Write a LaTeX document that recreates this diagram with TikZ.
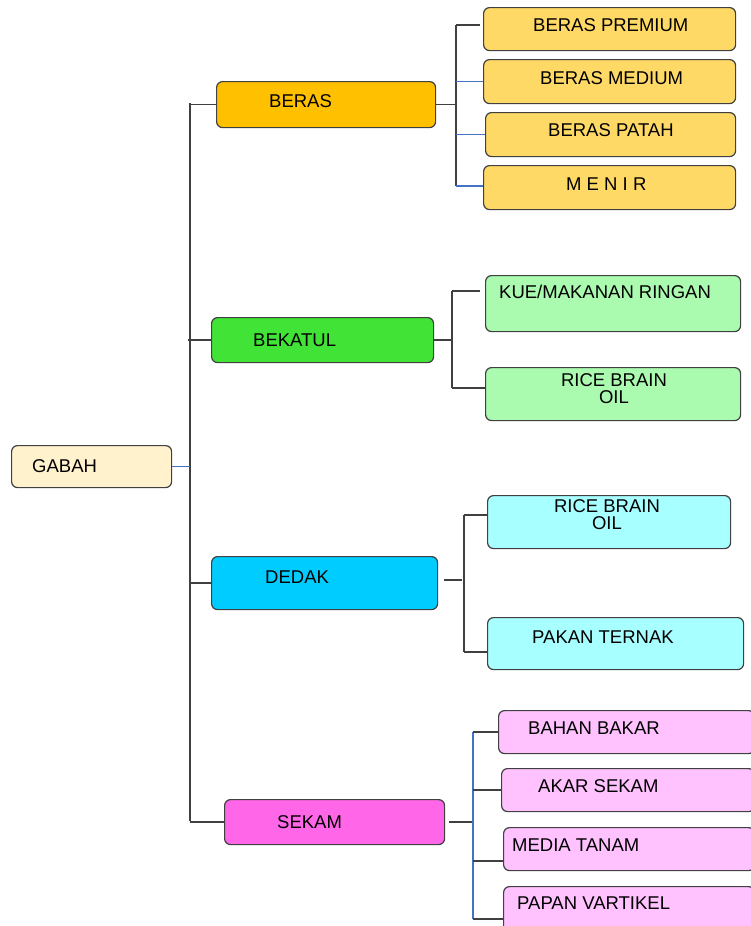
\documentclass[tikz,border=0pt]{standalone}
\usepackage{fontspec}
\setmainfont{Liberation Sans}
\usepackage{tikz}
\usetikzlibrary{calc}

\definecolor{gabahfill}{HTML}{FFF2CC}
\definecolor{berasfill}{HTML}{FFC000}
\definecolor{beraskid}{HTML}{FFD966}
\definecolor{bekatulfill}{HTML}{41E336}
\definecolor{bekatulkid}{HTML}{AAFAB0}
\definecolor{dedakfill}{HTML}{00CCFF}
\definecolor{dedakkid}{HTML}{A8FFFF}
\definecolor{sekamfill}{HTML}{FF66E8}
\definecolor{sekamkid}{HTML}{FFC2FF}
\definecolor{linkblue}{HTML}{4472C4}

\tikzset{
  box/.style={draw=black!75, line width=1.2pt, rounded corners=6pt, anchor=north west, inner sep=0pt},
  lbl/.style={font=\fontsize{18.5}{17}\selectfont, inner sep=0pt, anchor=west, text=black},
  conn/.style={draw=black!75, line width=1.3pt},
  bconn/.style={draw=linkblue, line width=1.4pt}
}

\begin{document}
\begin{tikzpicture}[x=1pt,y=-1pt]
  \useasboundingbox (0,0) rectangle (750,926);

  \node [box, fill=gabahfill, minimum width=160pt, minimum height=42pt] (gabah) at (11,445) {};
  \node [box, fill=berasfill, minimum width=219pt, minimum height=46pt] (beras) at (216,81) {};
  \node [box, fill=bekatulfill, minimum width=222pt, minimum height=45pt] (bekatul) at (211,317) {};
  \node [box, fill=dedakfill, minimum width=226pt, minimum height=53pt] (dedak) at (211,556) {};
  \node [box, fill=sekamfill, minimum width=220pt, minimum height=45pt] (sekam) at (224,799) {};

  \node [box, fill=beraskid, minimum width=252pt, minimum height=43pt] (premium) at (483,7) {};
  \node [box, fill=beraskid, minimum width=252pt, minimum height=44pt] (medium) at (483,59) {};
  \node [box, fill=beraskid, minimum width=250pt, minimum height=44pt] (patah) at (485,112) {};
  \node [box, fill=beraskid, minimum width=252pt, minimum height=44pt] (menir) at (483,165) {};

  \node [box, fill=bekatulkid, minimum width=255pt, minimum height=56pt] (kue) at (485,275) {};
  \node [box, fill=bekatulkid, minimum width=255pt, minimum height=53pt] (oilbk) at (485,367) {};

  \node [box, fill=dedakkid, minimum width=243pt, minimum height=53pt] (oildd) at (487,495) {};
  \node [box, fill=dedakkid, minimum width=256pt, minimum height=52pt] (pakan) at (487,617) {};

  \node [box, fill=sekamkid, minimum width=256pt, minimum height=43pt] (bahan) at (498,710) {};
  \node [box, fill=sekamkid, minimum width=253pt, minimum height=43pt] (akar) at (501,768) {};
  \node [box, fill=sekamkid, minimum width=251pt, minimum height=43pt] (media) at (503,827) {};
  \node [box, fill=sekamkid, minimum width=251pt, minimum height=50pt] (papan) at (503,886) {};

  \node [lbl] (tgabah) at (32,466) {GABAH};
  \node [lbl] (tberas) at (269,101) {BERAS};
  \node [lbl] (tbekatul) at (253,340) {BEKATUL};
  \node [lbl] (tdedak) at (265,577) {DEDAK};
  \node [lbl] (tsekam) at (277,822) {SEKAM};
  \node [lbl] (tpremium) at (533,25) {BERAS PREMIUM};
  \node [lbl] (tmedium) at (540,78) {BERAS MEDIUM};
  \node [lbl] (tpatah) at (548,130) {BERAS PATAH};
  \node [lbl] (tmenir) at (566,184) {M E N I R};
  \node [lbl] (tkue) at (499,292) {KUE/MAKANAN RINGAN};
  \node [lbl, anchor=center, align=center] (toilbk) at (614,388.5) {RICE BRAIN\\ OIL};
  \node [lbl, anchor=center, align=center] (toildd) at (607,514.5) {RICE BRAIN\\ OIL};
  \node [lbl] (tpakan) at (532,637) {PAKAN TERNAK};
  \node [lbl] (tbahan) at (528,728) {BAHAN BAKAR};
  \node [lbl] (takar) at (538,786) {AKAR SEKAM};
  \node [lbl] (tmedia) at (512,845) {MEDIA TANAM};
  \node [lbl] (tpapan) at (517,903) {PAPAN VARTIKEL};

  \coordinate (trunktop) at (190,103);
  \coordinate (trunkbot) at (190,821);
  \draw [conn] (trunktop) -- (trunkbot);
  \draw [bconn] (gabah.east) -- (gabah.east -| trunktop);
  \draw [conn] (beras.west -| trunktop) -- (beras.west);
  \draw [conn] ($(bekatul.west -| trunktop)+(-2,0)$) -- (bekatul.west);
  \draw [conn] (dedak.west -| trunktop) -- (dedak.west);
  \draw [conn] (sekam.west -| trunktop) -- (sekam.west);

  \coordinate (br1) at (456,25);
  \coordinate (br4) at (456,186);
  \draw [conn] (beras.east) -- (beras.east -| br1);
  \draw [conn] (br1) -- (br4);
  \draw [conn] (br1) -- ($(br1 -| premium.west)+(-3,0)$);
  \draw [bconn] (medium.west -| br1) -- (medium.west);
  \draw [bconn] (patah.west -| br1) -- (patah.west);
  \draw [bconn] (br4) -- (br4 -| menir.west);

  \coordinate (bk1) at (452,291);
  \coordinate (bk2) at (452,388);
  \draw [conn] (bekatul.east) -- (bekatul.east -| bk1);
  \draw [conn] (bk1) -- (bk2);
  \draw [conn] (bk1) -- ($(bk1 -| kue.west)+(-5,0)$);
  \draw [conn] (bk2) -- (bk2 -| oilbk.west);

  \coordinate (dd1) at (464,515);
  \coordinate (dd2) at (464,652);
  \draw [conn] ($(dedak.east)+(6,-3)$) -- ($(dedak.east -| dd1)+(-2,-3)$);
  \draw [conn] (dd1) -- (dd2);
  \draw [conn] (dd1) -- (dd1 -| oildd.west);
  \draw [conn] (dd2) -- (dd2 -| pakan.west);

  \coordinate (sk1) at (473,732);
  \coordinate (sk2) at (473,790);
  \coordinate (sk3) at (473,861);
  \coordinate (sk4) at (473,919);
  \draw [conn] ($(sekam.east)+(4,0)$) -- (sekam.east -| sk1);
  \draw [bconn] (sk1) -- (sk4);
  \draw [conn] (sk1) -- (sk1 -| bahan.west);
  \draw [conn] (sk2) -- (sk2 -| akar.west);
  \draw [conn] (sk3) -- (sk3 -| media.west);
  \draw [conn] (sk4) -- (sk4 -| papan.west);
\end{tikzpicture}
\end{document}
